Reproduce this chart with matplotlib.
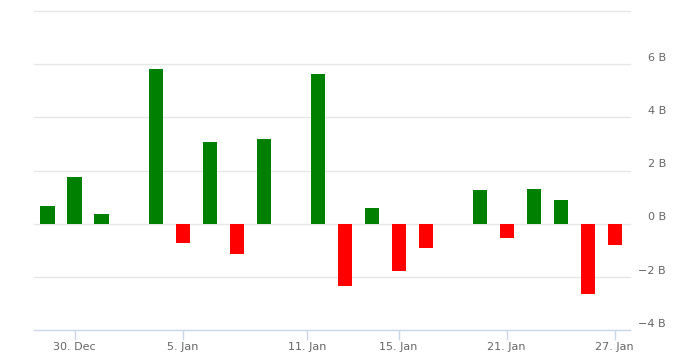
import matplotlib
matplotlib.use("Agg")
import matplotlib.pyplot as plt
import numpy as np

# one slot per trading day, nan = no bar
values = [0.65, 1.75, 0.35, np.nan, 5.82, -0.73, 3.07, -1.15, 3.18, np.nan,
          5.63, -2.35, 0.58, -1.79, -0.92, np.nan, 1.26, -0.55, 1.30, 0.88,
          -2.63, -0.81]
tick_pos = [1, 5, 9.6, 13, 17, 21]
tick_labels = ["30. Dec", "5. Jan", "11. Jan", "15. Jan", "21. Jan", "27. Jan"]
yticks = [-4, -2, 0, 2, 4, 6, 8]
ylabels = ["\u22124 B", "\u22122 B", "0 B", "2 B", "4 B", "6 B", ""]

W, H = 684, 353
fig = plt.figure(figsize=(W / 100, H / 100), dpi=100)
ax = fig.add_axes([34 / W, (H - 330) / H, (630 - 34) / W, (330 - 11) / H])

x = np.arange(len(values))
vals = np.array(values)
colors = ["#008000" if v >= 0 else "#ff0000" for v in np.nan_to_num(vals)]
ax.bar(x, np.nan_to_num(vals), width=0.52, color=colors, zorder=3)

ax.set_xlim(-0.5, 21.57)
ax.set_ylim(-4, 8)

for y in yticks[1:]:
    ax.axhline(y, color="#e6e6e6", lw=1, zorder=1, clip_on=False)

for s in ["top", "left", "right"]:
    ax.spines[s].set_visible(False)
ax.spines["bottom"].set_color("#ccd6eb")
ax.spines["bottom"].set_linewidth(1)

ax.set_xticks(tick_pos)
ax.set_xticklabels(tick_labels)
ax.tick_params(axis="x", length=7, width=1, color="#ccd6eb", pad=1.5,
               labelsize=8, labelcolor="#666666")
ax.set_yticks([])

for y, lab in zip(yticks, ylabels):
    ax.annotate(lab, xy=(1, y), xycoords=("axes fraction", "data"),
                xytext=(26, 4.5), textcoords="offset points",
                ha="right", va="center", fontsize=8, color="#666666")

fig.savefig("out.png", dpi=100)
